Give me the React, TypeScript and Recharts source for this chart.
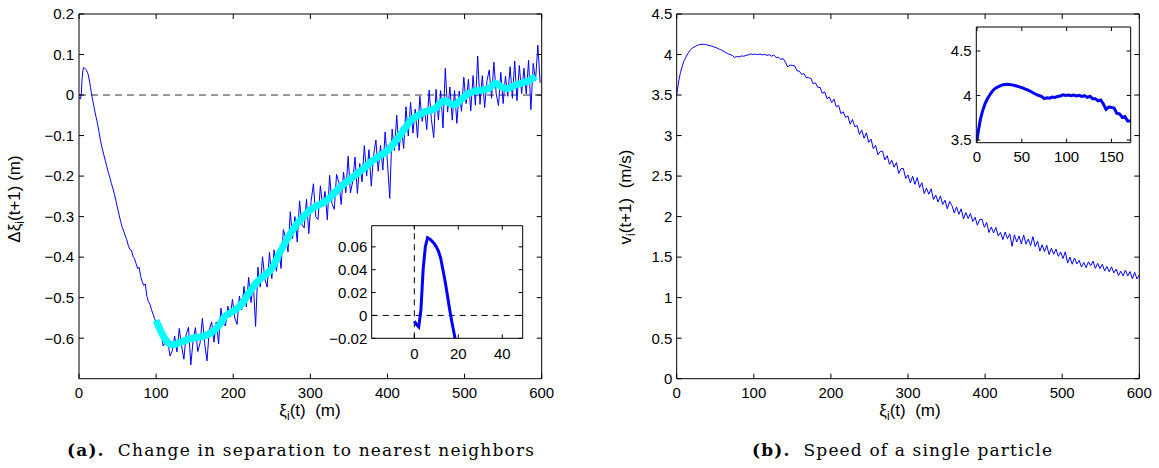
import React from 'react';
import { LineChart, Line, XAxis, YAxis, ReferenceLine } from 'recharts';

const range = (start: number, end: number, step: number): number[] => {
  const out: number[] = [];
  for (let v = start; v <= end + 1e-9; v += step) out.push(Math.round(v * 1000) / 1000);
  return out;
};

// ---------- Panel (a): change in separation ----------
const xiA1 = range(0, 24, 1);
const dXiA1 = [
  -0.005, -0.008, -0.01, 0.005, 0.04, 0.06, 0.068, 0.067, 0.065, 0.063,
  0.06, 0.056, 0.05, 0.04, 0.03, 0.018, 0.006, -0.005, -0.015, -0.025,
  -0.035, -0.044, -0.053, -0.062, -0.071,
];
const xiA2 = range(26, 98, 2);
const dXiA2 = [
  -0.092, -0.113, -0.131, -0.146, -0.161, -0.176, -0.191, -0.204, -0.218, -0.231,
  -0.245, -0.262, -0.279, -0.296, -0.312, -0.326, -0.336, -0.348, -0.357, -0.372,
  -0.381, -0.383, -0.398, -0.404, -0.416, -0.428, -0.425, -0.448, -0.461, -0.47,
  -0.466, -0.497, -0.51, -0.516, -0.53, -0.54, -0.552,
];
const xiA3 = range(100, 598, 3);
const dXiA3 = [
  -0.561, -0.584, -0.572, -0.619, -0.612, -0.605, -0.644, -0.631, -0.595, -0.634,
  -0.576, -0.619, -0.652, -0.59, -0.573, -0.666, -0.605, -0.574, -0.633, -0.612,
  -0.551, -0.614, -0.656, -0.579, -0.56, -0.61, -0.56, -0.614, -0.526, -0.563,
  -0.57, -0.521, -0.548, -0.504, -0.55, -0.566, -0.496, -0.53, -0.472, -0.523,
  -0.45, -0.512, -0.464, -0.571, -0.425, -0.474, -0.399, -0.454, -0.474, -0.388,
  -0.453, -0.382, -0.435, -0.379, -0.428, -0.332, -0.352, -0.387, -0.288, -0.354,
  -0.3, -0.363, -0.261, -0.319, -0.328, -0.257, -0.342, -0.262, -0.219, -0.3,
  -0.307, -0.224, -0.276, -0.238, -0.308, -0.198, -0.268, -0.282, -0.196, -0.216,
  -0.27, -0.19, -0.241, -0.151, -0.242, -0.212, -0.153, -0.243, -0.169, -0.214,
  -0.125, -0.2, -0.135, -0.225, -0.149, -0.111, -0.188, -0.124, -0.185, -0.091,
  -0.167, -0.255, -0.084, -0.137, -0.05, -0.137, -0.08, -0.132, -0.029, -0.101,
  -0.018, -0.094, -0.035, -0.106, -0.003, -0.065, -0.032, -0.085, 0.012, -0.061,
  -0.105, 0.014, -0.061, 0.011, -0.081, 0.066, -0.042, 0.02, -0.062, 0.011,
  -0.07, 0.01, -0.04, 0.044, -0.021, 0.039, -0.039, 0.048, -0.025, 0.096,
  -0.023, 0.048, -0.031, 0.035, 0.062, -0.008, 0.081, 0.003, -0.026, 0.056,
  -0.021, 0.047, -0.003, 0.07, -0.008, 0.084, -0.014, 0.073, 0.004, 0.066,
  0.003, 0.086, -0.036, 0.078, 0.036, 0.123, 0.03,
];
const xiSmooth = [
  100, 105, 110, 115, 120, 125, 130, 140, 150, 160,
  170, 180, 190, 200, 210, 220, 230, 240, 250, 260,
  270, 280, 290, 300, 310, 320, 330, 340, 350, 360,
  370, 380, 390, 400, 410, 420, 430, 440, 450, 460,
  465, 470, 475, 480, 487, 495, 505, 515, 525, 532,
  540, 548, 555, 565, 575, 585, 592,
];
const dXiSmooth = [
  -0.556, -0.578, -0.597, -0.61, -0.616, -0.615, -0.611, -0.604, -0.599, -0.596,
  -0.588, -0.572, -0.545, -0.533, -0.518, -0.49, -0.463, -0.446, -0.428, -0.39,
  -0.355, -0.325, -0.302, -0.283, -0.272, -0.262, -0.244, -0.225, -0.21, -0.195,
  -0.18, -0.163, -0.15, -0.137, -0.115, -0.09, -0.063, -0.05, -0.04, -0.035,
  -0.028, -0.017, -0.014, -0.02, -0.024, -0.012, 0.004, 0.01, 0.013, 0.017,
  0.029, 0.02, 0.016, 0.024, 0.03, 0.037, 0.046,
];
const ticksAX = [0, 100, 200, 300, 400, 500, 600];
const ticksAY = [-0.6, -0.5, -0.4, -0.3, -0.2, -0.1, 0, 0.1, 0.2];
const ticksAInsetX = [0, 20, 40];
const ticksAInsetY = [-0.02, 0, 0.02, 0.04, 0.06];

// ---------- Panel (b): speed of a single particle ----------
const xiB1 = range(0, 12, 1);
const vB1 = [3.5, 3.57, 3.63, 3.69, 3.74, 3.78, 3.82, 3.85, 3.88, 3.91, 3.93, 3.95, 3.97];
const xiB2 = range(15, 129, 3);
const vB2 = [
  4.02, 4.06, 4.085, 4.1, 4.115, 4.123, 4.127, 4.125, 4.12, 4.113,
  4.105, 4.095, 4.085, 4.072, 4.06, 4.045, 4.028, 4.012, 4.0, 3.99,
  3.965, 3.975, 3.97, 3.983, 3.978, 3.99, 3.995, 4.008, 4.0, 4.005,
  3.998, 4.006, 3.995, 4.002, 3.99, 3.998, 3.98, 3.992, 3.965,
];
const xiB3 = range(132, 600, 3);
const vB3 = [
  3.965, 3.94, 3.95, 3.905, 3.845, 3.87, 3.865, 3.86, 3.8, 3.795,
  3.755, 3.765, 3.715, 3.715, 3.705, 3.64, 3.65, 3.595, 3.595, 3.52,
  3.54, 3.456, 3.476, 3.408, 3.45, 3.354, 3.372, 3.27, 3.294, 3.224,
  3.242, 3.14, 3.198, 3.109, 3.124, 3.014, 3.07, 2.968, 3.034, 2.916,
  2.958, 2.838, 2.88, 2.762, 2.804, 2.808, 2.7, 2.752, 2.644, 2.696,
  2.61, 2.666, 2.532, 2.592, 2.594, 2.47, 2.514, 2.414, 2.498, 2.398,
  2.482, 2.358, 2.418, 2.284, 2.352, 2.276, 2.344, 2.212, 2.264, 2.18,
  2.256, 2.15, 2.202, 2.096, 2.188, 2.136, 2.044, 2.12, 2.028, 2.096,
  1.972, 2.05, 1.976, 2.038, 1.94, 1.992, 1.894, 1.964, 1.968, 1.868,
  1.928, 1.804, 1.872, 1.798, 1.866, 1.76, 1.806, 1.716, 1.81, 1.728,
  1.788, 1.634, 1.776, 1.688, 1.76, 1.662, 1.774, 1.66, 1.724, 1.642,
  1.752, 1.63, 1.698, 1.574, 1.652, 1.568, 1.646, 1.532, 1.61, 1.536,
  1.598, 1.51, 1.564, 1.482, 1.566, 1.426, 1.502, 1.412, 1.49, 1.416,
  1.46, 1.378, 1.434, 1.37, 1.442, 1.394, 1.45, 1.362, 1.424, 1.358,
  1.412, 1.33, 1.384, 1.318, 1.38, 1.306, 1.352, 1.272, 1.326, 1.27,
  1.34, 1.268, 1.322, 1.234, 1.312, 1.23, 1.284,
];
const ticksBX = [0, 100, 200, 300, 400, 500, 600];
const ticksBY = [0, 0.5, 1, 1.5, 2, 2.5, 3, 3.5, 4, 4.5];
const ticksBInsetX = [0, 50, 100, 150];
const ticksBInsetY = [3.5, 4, 4.5];

// ---------- tables ----------
const zip = (xs: number[], ys: number[]) => xs.map((x, i) => ({ x, y: ys[i] }));
const sepData = [...zip(xiA1, dXiA1), ...zip(xiA2, dXiA2), ...zip(xiA3, dXiA3)];
const sepSmooth = zip(xiSmooth, dXiSmooth);
const speedData = [...zip(xiB1, vB1), ...zip(xiB2, vB2), ...zip(xiB3, vB3)];

const FONT = 'Liberation Sans, Arial, Helvetica, sans-serif';
const NB = '\u00A0';
const fmt = (v: number) => {
  if (Math.abs(v) < 1e-12) return '0';
  const s = String(Math.abs(Math.round(v * 1000) / 1000));
  return v < 0 ? '\u2212' + s : s;
};
const tickStyle = { fill: '#000', fontSize: 15, fontFamily: FONT };
const blank = () => '';

type BoxProps = { xd: [number, number]; yd: [number, number]; xt: number[]; yt: number[]; ts: number; data: { x: number; y: number }[] };

// mirrored top / right axes that close the box with inward ticks
const boxAxes = ({ xd, yd, xt, yt, ts, data }: BoxProps) => [
  <XAxis key="xt" xAxisId="t" orientation="top" mirror dataKey="x" type="number" domain={xd} ticks={xt} allowDataOverflow
    interval={0} tickSize={ts} height={10} stroke="#000" tickFormatter={blank} />,
  <YAxis key="yr" yAxisId="r" orientation="right" mirror type="number" domain={yd} ticks={yt} allowDataOverflow
    interval={0} tickSize={ts} width={10} stroke="#000" tickFormatter={blank} />,
  <Line key="ghost" xAxisId="t" yAxisId="r" data={data} dataKey="y" stroke="none" dot={false} activeDot={false}
    isAnimationActive={false} legendType="none" />,
];

export default function App() {
  const ts = 5;
  return (
    <div style={{ position: 'absolute', left: 0, top: 0, width: 1159, height: 468, background: '#fff', fontFamily: FONT }}>
      {/* Panel (a) main */}
      <div style={{ position: 'absolute', left: 0, top: 0 }}>
        <LineChart width={560} height={400} margin={{ top: 14, right: 18.3, bottom: 1.3, left: 0 }}>
          <XAxis dataKey="x" type="number" domain={[0, 600]} ticks={ticksAX} allowDataOverflow interval={0}
            tickSize={-ts} tickMargin={14} height={20} stroke="#000" tick={tickStyle} tickFormatter={fmt} />
          <YAxis type="number" domain={[-0.7, 0.2]} ticks={ticksAY} allowDataOverflow interval={0}
            tickSize={-ts} tickMargin={10} width={79} stroke="#000" tick={tickStyle} tickFormatter={fmt} />
          {boxAxes({ xd: [0, 600], yd: [-0.7, 0.2], xt: ticksAX, yt: ticksAY, ts, data: sepSmooth })}
          <ReferenceLine y={0} stroke="#333" strokeDasharray="7 5" strokeWidth={1} />
          <Line data={sepData} dataKey="y" type="linear" stroke="#0000ff" strokeWidth={1} dot={false} activeDot={false} isAnimationActive={false} />
          <Line data={sepSmooth} dataKey="y" type="monotone" stroke="#00ffff" strokeWidth={7} strokeLinejoin="round" dot={false} activeDot={false} isAnimationActive={false} />
        </LineChart>
      </div>
      {/* Panel (a) inset */}
      <div style={{ position: 'absolute', left: 320, top: 210 }}>
        <LineChart width={220} height={175} margin={{ top: 15.7, right: 17.3, bottom: 26.7, left: 0 }}>
          <XAxis dataKey="x" type="number" domain={[-19.4, 49.3]} ticks={ticksAInsetX} allowDataOverflow interval={0}
            tickSize={-4} tickMargin={14} height={20} stroke="#000" tick={tickStyle} tickFormatter={fmt} />
          <YAxis type="number" domain={[-0.02, 0.0785]} ticks={ticksAInsetY} allowDataOverflow interval={0}
            tickSize={-4} tickMargin={8.4} width={51.7} stroke="#000" tick={tickStyle} tickFormatter={fmt} />
          {boxAxes({ xd: [-19.4, 49.3], yd: [-0.02, 0.0785], xt: ticksAInsetX, yt: ticksAInsetY, ts: 4, data: sepSmooth })}
          <ReferenceLine y={0} stroke="#000" strokeDasharray="6 5" strokeWidth={1} />
          <ReferenceLine x={0} stroke="#000" strokeDasharray="6 5" strokeWidth={1} />
          <Line data={sepData} dataKey="y" type="linear" stroke="#0000ff" strokeWidth={3} dot={false} activeDot={false} isAnimationActive={false} />
        </LineChart>
      </div>
      {/* Panel (b) main */}
      <div style={{ position: 'absolute', left: 600, top: 0 }}>
        <LineChart width={560} height={400} margin={{ top: 14, right: 20.7, bottom: 1.3, left: 0 }}>
          <XAxis dataKey="x" type="number" domain={[0, 600]} ticks={ticksBX} allowDataOverflow interval={0}
            tickSize={-ts} tickMargin={14} height={20} stroke="#000" tick={tickStyle} tickFormatter={fmt} />
          <YAxis type="number" domain={[0, 4.5]} ticks={ticksBY} allowDataOverflow interval={0}
            tickSize={-ts} tickMargin={9.4} width={76.7} stroke="#000" tick={tickStyle} tickFormatter={fmt} />
          {boxAxes({ xd: [0, 600], yd: [0, 4.5], xt: ticksBX, yt: ticksBY, ts, data: speedData })}
          <Line data={speedData} dataKey="y" type="linear" stroke="#0000ff" strokeWidth={1} dot={false} activeDot={false} isAnimationActive={false} />
        </LineChart>
      </div>
      {/* Panel (b) inset */}
      <div style={{ position: 'absolute', left: 920, top: 10 }}>
        <LineChart width={230} height={160} margin={{ top: 17, right: 19.3, bottom: 12.3, left: 0 }}>
          <XAxis dataKey="x" type="number" domain={[-0.8, 171.5]} ticks={ticksBInsetX} allowDataOverflow interval={0}
            tickSize={-4} tickMargin={13} height={15} stroke="#000" tick={tickStyle} tickFormatter={fmt} />
          <YAxis type="number" domain={[3.47, 4.77]} ticks={ticksBInsetY} allowDataOverflow interval={0}
            tickSize={-4} tickMargin={8.6} width={56.3} stroke="#000" tick={tickStyle} tickFormatter={fmt} />
          {boxAxes({ xd: [-0.8, 171.5], yd: [3.47, 4.77], xt: ticksBInsetX, yt: ticksBInsetY, ts: 4, data: speedData })}
          <Line data={speedData} dataKey="y" type="linear" stroke="#0000ff" strokeWidth={3} dot={false} activeDot={false} isAnimationActive={false} />
        </LineChart>
      </div>
      {/* Labels and captions */}
      <svg width={1159} height={468} style={{ position: 'absolute', left: 0, top: 0, pointerEvents: 'none' }}>
        <g fontFamily={FONT} fontSize={17} fill="#000">
          <text transform="translate(20,199) rotate(-90)" textAnchor="middle">
            Δξ<tspan fontSize={12} dy={4}>i</tspan><tspan dy={-4}>{`(t+1)${NB}(m)`}</tspan>
          </text>
          <text transform="translate(631,197) rotate(-90)" textAnchor="middle">
            v<tspan fontSize={12} dy={4}>i</tspan><tspan dy={-4}>{`(t+1)${NB}${NB}(m/s)`}</tspan>
          </text>
          <text x={310} y={416} textAnchor="middle">
            ξ<tspan fontSize={12} dy={4}>i</tspan><tspan dy={-4}>{`(t)${NB}${NB}(m)`}</tspan>
          </text>
          <text x={910} y={416} textAnchor="middle">
            ξ<tspan fontSize={12} dy={4}>i</tspan><tspan dy={-4}>{`(t)${NB}${NB}(m)`}</tspan>
          </text>
        </g>
        <g fontFamily="DejaVu Serif, Liberation Serif, serif" fontSize={17} fill="#000">
          <text x={67} y={456} textLength={467} lengthAdjust="spacing">
            <tspan fontWeight="bold">(a).</tspan>{`${NB}${NB}Change in separation to nearest neighbors`}
          </text>
          <text x={752} y={456} textLength={300} lengthAdjust="spacing">
            <tspan fontWeight="bold">(b).</tspan>{`${NB}${NB}Speed of a single particle`}
          </text>
        </g>
      </svg>
    </div>
  );
}
